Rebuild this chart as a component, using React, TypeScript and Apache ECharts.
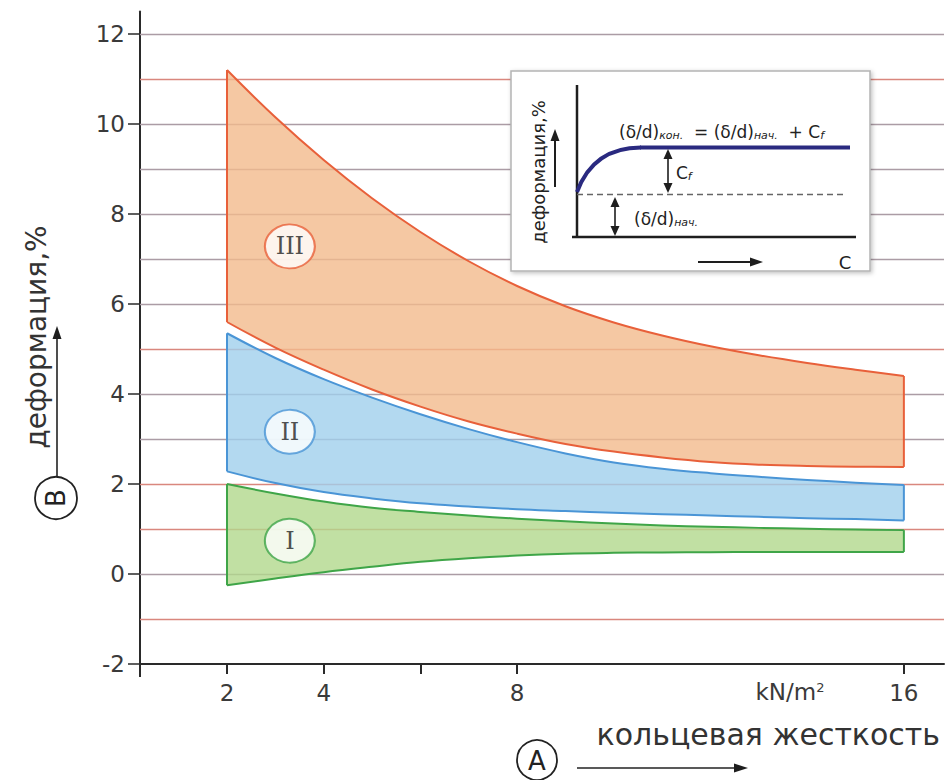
import React, { useEffect, useRef } from "react";
import * as echarts from "echarts";

// ---- data ----
const stiffness = [2, 3, 4, 5, 6, 7, 8, 9, 10, 11, 12, 13, 14, 15, 16];
const zoneIIITop = [11.2, 10.15, 9.2, 8.35, 7.6, 6.95, 6.4, 5.95, 5.59, 5.3, 5.06, 4.86, 4.69, 4.54, 4.4];
const zoneIIIBottom = [5.6, 5.03, 4.54, 4.1, 3.72, 3.39, 3.12, 2.89, 2.72, 2.59, 2.49, 2.43, 2.4, 2.385, 2.38];
const zoneIITop = [5.35, 4.8, 4.33, 3.92, 3.55, 3.22, 2.93, 2.68, 2.48, 2.34, 2.24, 2.16, 2.09, 2.03, 1.98];
const zoneIIBottom = [2.28, 2.02, 1.82, 1.68, 1.57, 1.5, 1.44, 1.4, 1.36, 1.33, 1.3, 1.27, 1.24, 1.22, 1.19];
const zoneITop = [2.0, 1.79, 1.61, 1.47, 1.38, 1.3, 1.23, 1.17, 1.12, 1.08, 1.05, 1.025, 1.005, 0.99, 0.975];
const zoneIBottom = [-0.25, -0.1, 0.04, 0.16, 0.27, 0.35, 0.41, 0.45, 0.47, 0.48, 0.485, 0.49, 0.49, 0.49, 0.49];
const zoneNames = ["I", "II", "III"];
const zoneLabelX = 3.3;
const zoneLabelY = [0.74, 3.16, 7.28];
const xTickValues = [2, 4, 6, 8, 16];
const xLabelValues = [2, 4, 8, 16];
const yLabelValues = [-2, 0, 2, 4, 6, 8, 10, 12];
const gridLineValues = [-1, 0, 1, 2, 3, 4, 5, 6, 7, 8, 9, 10, 11, 12];
const redGridValues = [-1, 1, 2, 5, 11];

const FONT = '"DejaVu Sans", Verdana, sans-serif';
const INK = "#333333";

const bands = [
  { top: zoneITop, bottom: zoneIBottom, fill: "rgba(178,216,140,0.8)", stroke: "#3fa548" },
  { top: zoneIITop, bottom: zoneIIBottom, fill: "rgba(160,207,236,0.8)", stroke: "#4a95d6" },
  { top: zoneIIITop, bottom: zoneIIIBottom, fill: "rgba(242,186,140,0.8)", stroke: "#e8603a" },
];

function arrowHead(tipX: number, tipY: number, dir: "up" | "down" | "right", len = 10, half = 4.5) {
  let pts: number[][];
  if (dir === "up") pts = [[tipX, tipY], [tipX - half, tipY + len], [tipX + half, tipY + len]];
  else if (dir === "down") pts = [[tipX, tipY], [tipX - half, tipY - len], [tipX + half, tipY - len]];
  else pts = [[tipX, tipY], [tipX - len, tipY - half], [tipX - len, tipY + half]];
  return { type: "polygon", z: 100, shape: { points: pts }, style: { fill: "#1e1e1e" } };
}
function seg(x1: number, y1: number, x2: number, y2: number, stroke = "#1e1e1e", lineWidth = 1.6, extra: any = {}) {
  return { type: "line", z: 100, shape: { x1, y1, x2, y2 }, style: { stroke, lineWidth, ...extra } };
}

export default function App() {
  const ref = useRef<HTMLDivElement>(null);
  useEffect(() => {
    if (!ref.current) return;
    const chart = echarts.init(ref.current, null, { renderer: "svg" });

    const graphic: any[] = [
      // y axis extension below x axis
      seg(140, 664, 140, 677, "#2a2a2a", 2),
      // Y title
      {
        type: "text", z: 100, x: 36, y: 337, rotation: Math.PI / 2,
        style: { text: "деформация,%", font: `28px ${FONT}`, fill: INK, align: "center", verticalAlign: "middle" },
      },
      seg(57, 476, 57, 336, "#222", 1.6),
      arrowHead(57, 326, "up", 13, 4.5),
      { type: "circle", z: 100, shape: { cx: 56, cy: 498, r: 21 }, style: { fill: "#fff", stroke: "#222", lineWidth: 1.8 } },
      {
        type: "text", z: 100, x: 56, y: 498, rotation: Math.PI / 2,
        style: { text: "B", font: `26px ${FONT}`, fill: "#222", align: "center", verticalAlign: "middle" },
      },
      // X title
      {
        type: "text", z: 100, x: 940, y: 734,
        style: { text: "кольцевая жесткость", font: `30px ${FONT}`, fill: INK, align: "right", verticalAlign: "middle" },
      },
      { type: "circle", z: 100, shape: { cx: 537, cy: 760, r: 20 }, style: { fill: "#fff", stroke: "#222", lineWidth: 1.8 } },
      {
        type: "text", z: 100, x: 537, y: 761,
        style: { text: "A", font: `26px ${FONT}`, fill: "#222", align: "center", verticalAlign: "middle" },
      },
      seg(577, 768, 736, 768, "#222", 1.6),
      arrowHead(748, 768, "right", 14, 4.5),
      // unit
      {
        type: "text", z: 100, x: 790, y: 692,
        style: {
          text: "{a|kN/m}{b|2}", align: "center", verticalAlign: "middle",
          rich: {
            a: { font: `23px ${FONT}`, fill: "#3a3a3a" },
            b: { font: `13px ${FONT}`, fill: "#3a3a3a", verticalAlign: "top" },
          },
        },
      },
      // ---- inset ----
      {
        type: "rect", z: 100, shape: { x: 511, y: 71, width: 359, height: 200 },
        style: { fill: "#fff", stroke: "#b4b4b4", lineWidth: 1.5, shadowBlur: 4, shadowColor: "rgba(0,0,0,0.25)", shadowOffsetX: 1.5, shadowOffsetY: 1.5 },
      },
      seg(577, 85, 577, 237, "#1e1e1e", 2.5),
      seg(572, 237, 856, 237, "#1e1e1e", 2.5),
      seg(577, 194.5, 843, 194.5, "#666", 1.3, { lineDash: [6, 4] }),
      {
        type: "bezierCurve", z: 100,
        shape: { x1: 577, y1: 192, cpx1: 588, cpy1: 162, cpx2: 610, cpy2: 147.5, x2: 641, y2: 147.5 },
        style: { stroke: "#2a2a80", lineWidth: 4, fill: null },
      },
      seg(640, 147.5, 850, 147.5, "#2a2a80", 4),
      // Cf arrow
      seg(668, 156, 668, 185, "#1e1e1e", 1.6),
      arrowHead(668, 149, "up", 10, 4.5),
      arrowHead(668, 193, "down", 10, 4.5),
      {
        type: "text", z: 100, x: 676, y: 173,
        style: {
          text: "{m|C}{s|f}", align: "left", verticalAlign: "middle",
          rich: { m: { font: `17px ${FONT}`, fill: "#222" }, s: { font: `italic 11px ${FONT}`, fill: "#222", verticalAlign: "bottom" } },
        },
      },
      // initial arrow
      seg(615, 204, 615, 228, "#1e1e1e", 1.6),
      arrowHead(615, 197, "up", 10, 4.5),
      arrowHead(615, 236, "down", 10, 4.5),
      {
        type: "text", z: 100, x: 634, y: 219,
        style: {
          text: "{m|(δ/d)}{s|нач.}", align: "left", verticalAlign: "middle",
          rich: { m: { font: `17px ${FONT}`, fill: "#222" }, s: { font: `italic 11px ${FONT}`, fill: "#222", verticalAlign: "bottom" } },
        },
      },
      // inset y label
      seg(555, 187, 555, 139, "#1e1e1e", 2),
      arrowHead(555, 129, "up", 12, 4.5),
      {
        type: "text", z: 100, x: 538, y: 172, rotation: Math.PI / 2,
        style: { text: "деформация,%", font: `18px ${FONT}`, fill: "#222", align: "center", verticalAlign: "middle" },
      },
      // formula
      {
        type: "text", z: 100, x: 619, y: 132,
        style: {
          text: "{m|(δ/d)}{s|кон.}{m|  = (δ/d)}{s|нач.}{m|  + C}{s|f}", align: "left", verticalAlign: "middle",
          rich: { m: { font: `17px ${FONT}`, fill: "#222" }, s: { font: `italic 11px ${FONT}`, fill: "#222", verticalAlign: "bottom" } },
        },
      },
      // bottom arrow + C
      seg(698, 262, 752, 262, "#1e1e1e", 2),
      arrowHead(763, 262, "right", 13, 4.5),
      {
        type: "text", z: 100, x: 845, y: 262,
        style: { text: "C", font: `18px ${FONT}`, fill: "#222", align: "center", verticalAlign: "middle" },
      },
    ];

    const option: any = {
      animation: false,
      backgroundColor: "#ffffff",
      grid: { left: 140, right: 2, top: 11.5, bottom: 116, containLabel: false },
      xAxis: {
        type: "value", min: 0.2, max: 16.83,
        axisLine: { show: true, onZero: false, lineStyle: { color: "#2a2a2a", width: 2 } },
        axisTick: { show: true, customValues: xTickValues, length: 10, lineStyle: { color: "#2a2a2a", width: 2 } },
        axisLabel: { customValues: xLabelValues, fontSize: 23, color: "#3a3a3a", margin: 17, fontFamily: FONT },
        splitLine: { show: false },
      },
      yAxis: {
        type: "value", min: -2, max: 12.5,
        axisLine: { show: true, onZero: false, lineStyle: { color: "#2a2a2a", width: 2 } },
        axisTick: { show: true, customValues: yLabelValues, length: 12, lineStyle: { color: "#2a2a2a", width: 1.5 } },
        axisLabel: { customValues: yLabelValues, fontSize: 23, color: "#3a3a3a", margin: 15, fontFamily: FONT },
        splitLine: { show: false },
      },
      series: [
        {
          type: "custom",
          name: "zones",
          z: 2,
          data: bands.map((b) => [stiffness[0], b.top[0]]),
          renderItem: (params: any, api: any) => {
            const b = bands[params.dataIndex];
            const top = stiffness.map((x, i) => api.coord([x, b.top[i]]));
            const bottom = stiffness.map((x, i) => api.coord([x, b.bottom[i]]));
            const poly = top.concat(bottom.slice().reverse());
            const n = top.length - 1;
            const st = { stroke: b.stroke, lineWidth: 2, fill: null };
            return {
              type: "group",
              children: [
                { type: "polygon", shape: { points: poly }, style: { fill: b.fill } },
                { type: "polyline", shape: { points: top, smooth: 0.4 }, style: st },
                { type: "polyline", shape: { points: bottom, smooth: 0.4 }, style: st },
                { type: "line", shape: { x1: top[0][0], y1: top[0][1], x2: bottom[0][0], y2: bottom[0][1] }, style: st },
                { type: "line", shape: { x1: top[n][0], y1: top[n][1], x2: bottom[n][0], y2: bottom[n][1] }, style: st },
              ],
            };
          },
          markLine: {
            z: 1,
            silent: true,
            symbol: ["none", "none"],
            label: { show: false },
            animation: false,
            data: gridLineValues.map((v) => ({
              yAxis: v,
              lineStyle: {
                type: "solid",
                width: 1.3,
                color: redGridValues.includes(v) ? "#d9877e" : "#ab9ca5",
              },
            })),
          },
        },
        {
          type: "scatter",
          name: "labels",
          z: 6,
          symbol: "circle",
          symbolSize: [50, 44],
          data: zoneLabelY.map((y, i) => ({
            value: [zoneLabelX, y],
            name: zoneNames[i],
            itemStyle: { color: "#ffffff", borderColor: bands[i].stroke, borderWidth: 2 },
          })),
          label: {
            show: true, position: "inside", formatter: "{b}",
            fontFamily: '"DejaVu Serif", "Liberation Serif", serif', fontSize: 24, color: "#222",
          },
        },
      ],
      graphic: { elements: graphic },
    };
    chart.setOption(option);
    return () => chart.dispose();
  }, []);
  return (
    <div
      ref={ref}
      style={{ position: "fixed", left: 0, top: 0, width: 946, height: 780, background: "#fff" }}
    />
  );
}
